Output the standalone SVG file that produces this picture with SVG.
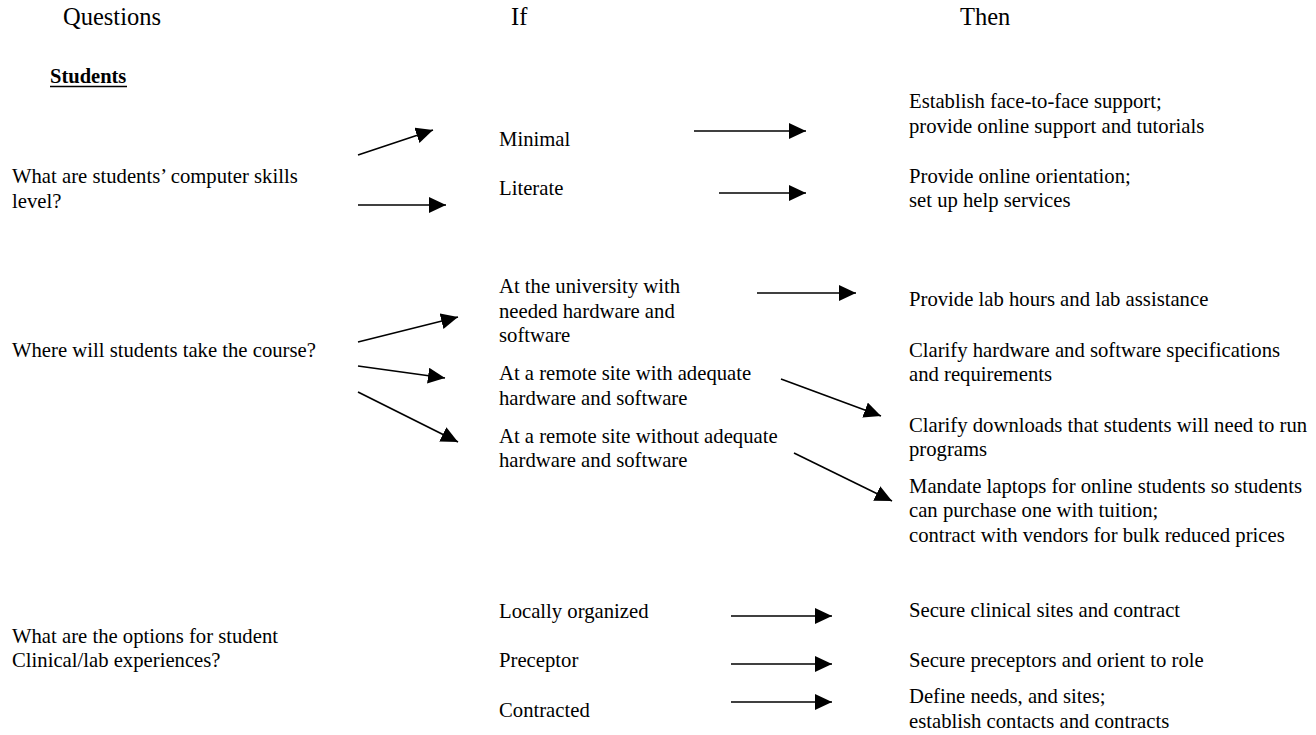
<svg xmlns="http://www.w3.org/2000/svg" width="1316" height="735" viewBox="0 0 1316 735">
  <style>
    text { font-family: "Liberation Serif", "Times New Roman", serif; fill: #000; }
    .hdr { font-size: 24.5px; }
    .t { font-size: 20.7px; }
    .b { font-size: 20.5px; font-weight: bold; }
    .conn line { stroke: #000; stroke-width: 1.6; marker-end: url(#arrow); }
  </style>
  <defs>
    <marker id="arrow" markerUnits="userSpaceOnUse" markerWidth="18" markerHeight="17" refX="17" refY="8" orient="auto">
      <path d="M0,0 L17,8 L0,16 z" fill="#000"/>
    </marker>
  </defs>
  <rect width="1316" height="735" fill="#fff"/>

  <!-- column headings -->
  <g id="headings">
    <text class="hdr" x="63" y="25">Questions</text>
    <text class="hdr" x="511" y="25">If</text>
    <text class="hdr" x="960" y="25">Then</text>
  </g>

  <g id="section-students">
    <text class="b" x="50" y="83">Students</text>
    <line x1="50" y1="86.5" x2="127" y2="86.5" stroke="#000" stroke-width="1.4"/>
  </g>

  <!-- questions -->
  <g id="q-skills">
    <text class="t" x="12" y="183">What are students’ computer skills</text>
    <text class="t" x="12" y="208">level?</text>
  </g>
  <g id="q-where">
    <text class="t" x="12" y="357">Where will students take the course?</text>
  </g>
  <g id="q-clinical">
    <text class="t" x="12" y="643">What are the options for student</text>
    <text class="t" x="12" y="667">Clinical/lab experiences?</text>
  </g>

  <!-- conditions -->
  <g id="if-minimal"><text class="t" x="499" y="146">Minimal</text></g>
  <g id="if-literate"><text class="t" x="499" y="195">Literate</text></g>
  <g id="if-university">
    <text class="t" x="499" y="293">At the university with</text>
    <text class="t" x="499" y="318">needed hardware and</text>
    <text class="t" x="499" y="342">software</text>
  </g>
  <g id="if-remote-adequate">
    <text class="t" x="499" y="380">At a remote site with adequate</text>
    <text class="t" x="499" y="405">hardware and software</text>
  </g>
  <g id="if-remote-inadequate">
    <text class="t" x="499" y="443">At a remote site without adequate</text>
    <text class="t" x="499" y="467">hardware and software</text>
  </g>
  <g id="if-local"><text class="t" x="499" y="618">Locally organized</text></g>
  <g id="if-preceptor"><text class="t" x="499" y="667">Preceptor</text></g>
  <g id="if-contracted"><text class="t" x="499" y="717">Contracted</text></g>

  <!-- actions -->
  <g id="then-face">
    <text class="t" x="909" y="108">Establish face-to-face support;</text>
    <text class="t" x="909" y="133">provide online support and tutorials</text>
  </g>
  <g id="then-orientation">
    <text class="t" x="909" y="183">Provide online orientation;</text>
    <text class="t" x="909" y="207">set up help services</text>
  </g>
  <g id="then-lab">
    <text class="t" x="909" y="306">Provide lab hours and lab assistance</text>
  </g>
  <g id="then-specs">
    <text class="t" x="909" y="357">Clarify hardware and software specifications</text>
    <text class="t" x="909" y="381">and requirements</text>
  </g>
  <g id="then-downloads">
    <text class="t" x="909" y="432">Clarify downloads that students will need to run</text>
    <text class="t" x="909" y="456">programs</text>
  </g>
  <g id="then-laptops">
    <text class="t" x="909" y="493">Mandate laptops for online students so students</text>
    <text class="t" x="909" y="517">can purchase one with tuition;</text>
    <text class="t" x="909" y="542">contract with vendors for bulk reduced prices</text>
  </g>
  <g id="then-clinical"><text class="t" x="909" y="617">Secure clinical sites and contract</text></g>
  <g id="then-preceptors"><text class="t" x="909" y="667">Secure preceptors and orient to role</text></g>
  <g id="then-define">
    <text class="t" x="909" y="703">Define needs, and sites;</text>
    <text class="t" x="909" y="728">establish contacts and contracts</text>
  </g>

  <!-- connectors -->
  <g id="connectors" class="conn">
    <line x1="358" y1="155" x2="433" y2="130"/>
    <line x1="358" y1="205" x2="446" y2="205"/>
    <line x1="694" y1="131" x2="806" y2="131"/>
    <line x1="719" y1="193" x2="806" y2="193"/>

    <line x1="358" y1="342" x2="458" y2="317"/>
    <line x1="358" y1="366" x2="445" y2="378"/>
    <line x1="358" y1="392" x2="458" y2="442"/>
    <line x1="757" y1="293" x2="856" y2="293"/>
    <line x1="781" y1="379" x2="881" y2="416"/>
    <line x1="794" y1="453" x2="892" y2="501"/>

    <line x1="731" y1="616" x2="832" y2="616"/>
    <line x1="731" y1="664" x2="832" y2="664"/>
    <line x1="731" y1="702" x2="832" y2="702"/>
  </g>
</svg>
